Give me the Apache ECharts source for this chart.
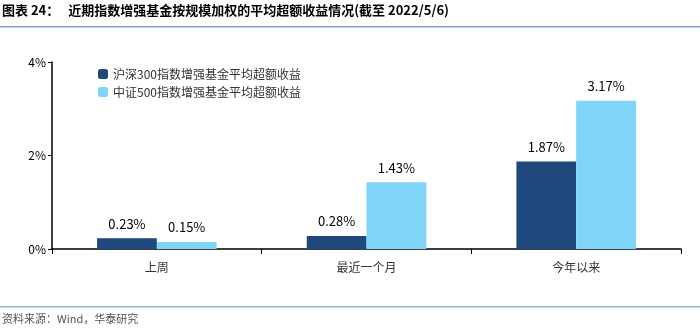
<!DOCTYPE html>
<html>
<head>
<meta charset="utf-8">
<script src="https://cdn.jsdelivr.net/npm/echarts@6/dist/echarts.min.js"></script>
<style>
  html, body { margin: 0; padding: 0; background: #fff; }
  #chart { width: 700px; height: 330px; }
</style>
</head>
<body>
<div id="chart"></div>
<script>
const categories = ['上周', '最近一个月', '今年以来']
const seriesNames = ['沪深300指数增强基金平均超额收益', '中证500指数增强基金平均超额收益']
const hs300 = [0.23, 0.28, 1.87]
const zz500 = [0.15, 1.43, 3.17]
const yTicks = [0, 2, 4]

const chart = echarts.init(document.getElementById('chart'))
const cjk = '"Noto Sans CJK SC", sans-serif'

chart.setOption({
  animation: false,
  textStyle: { fontFamily: cjk },
  graphic: [
    { type: 'text', left: 2, top: 4, style: { text: '图表 24：   近期指数增强基金按规模加权的平均超额收益情况(截至 2022/5/6)', font: 'bold 13px ' + cjk, fill: '#000' } },
    { type: 'rect', shape: { x: 0, y: 26, width: 700, height: 1.5 }, style: { fill: '#7f9fc7' } },
    { type: 'rect', shape: { x: 0, y: 306, width: 700, height: 1.5 }, style: { fill: '#9db3d1' } },
    { type: 'text', left: 2, top: 313, style: { text: '资料来源：Wind，华泰研究', font: '11px ' + cjk, fill: '#555' } }
  ],
  legend: {
    orient: 'vertical', left: 93, top: 63, itemWidth: 10, itemHeight: 10, itemGap: 6,
    textStyle: { fontSize: 12, color: '#333' },
    data: seriesNames
  },
  grid: { left: 52, right: 19, top: 62, bottom: 81 },
  xAxis: {
    type: 'category', data: categories,
    axisLine: { lineStyle: { color: '#000', width: 1.5 } },
    axisTick: { show: true, length: 5, lineStyle: { color: '#000' } },
    axisLabel: { color: '#333', fontSize: 12, margin: 12 }
  },
  yAxis: {
    type: 'value', min: 0, max: 4, interval: 2,
    axisLine: { show: true, lineStyle: { color: '#000', width: 1.5 } },
    axisTick: { show: true, length: 4, lineStyle: { color: '#000' } },
    splitLine: { show: false },
    axisLabel: { color: '#000', fontSize: 12, margin: 6, formatter: v => yTicks.includes(v) ? v + '%' : '' }
  },
  series: [
    {
      name: seriesNames[0], type: 'bar', data: hs300, barGap: '0%', barCategoryGap: '43%',
      itemStyle: { color: '#1f497d' },
      label: { show: true, position: 'top', distance: 8, fontSize: 13, color: '#000', formatter: p => p.value.toFixed(2) + '%' }
    },
    {
      name: seriesNames[1], type: 'bar', data: zz500,
      itemStyle: { color: '#7fd5f7' },
      label: { show: true, position: 'top', distance: 8, fontSize: 13, color: '#000', formatter: p => p.value.toFixed(2) + '%' }
    }
  ]
})
</script>
</body>
</html>
